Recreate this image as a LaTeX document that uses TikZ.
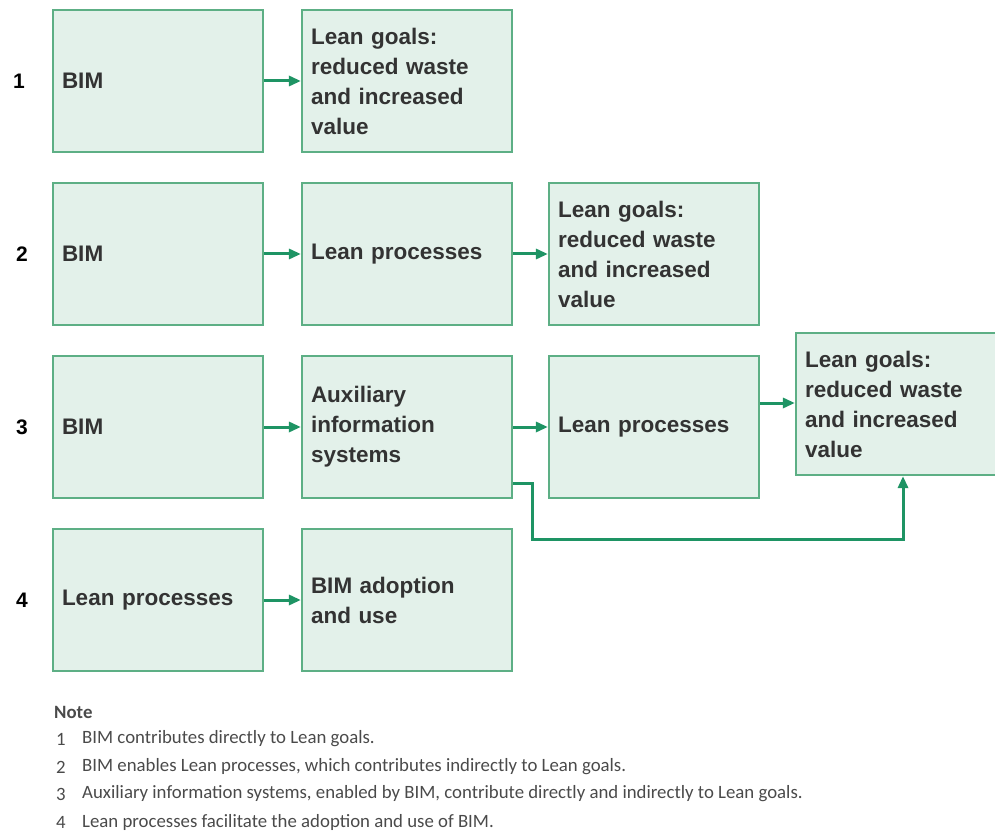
\documentclass[tikz,border=0pt]{standalone}
\usepackage{fontspec}
\setmainfont{Liberation Sans}
\newfontfamily\notefont{Carlito}
\usetikzlibrary{arrows.meta}
\definecolor{boxfill}{HTML}{E3F1EA}
\definecolor{boxline}{HTML}{5DAF85}
\definecolor{arrowgreen}{HTML}{1E9464}
\definecolor{boxtext}{HTML}{333333}
\definecolor{notetext}{HTML}{4A4A4A}
\begin{document}
\begin{tikzpicture}[x=1pt,y=-1pt,
  box/.style={draw=boxline, line width=2.2pt, fill=boxfill,
    minimum width=210pt, minimum height=142pt, inner xsep=9pt,
    text width=192pt, align=left, text=boxtext,
    font=\fontsize{22.5}{30}\selectfont\bfseries},
  rowlabel/.style={font=\fontsize{21}{24}\selectfont\bfseries, text=black},
  link/.style={draw=arrowgreen, line width=3pt,
    -{Triangle[length=12pt,width=10pt]}},
  note/.style={anchor=west, inner sep=0pt, text=notetext,
    font=\notefont\fontsize{18.8}{22}\selectfont}]
\useasboundingbox (0,0) rectangle (995,834);

% row labels
\node[rowlabel] (n1) at (19,81) {1};
\node[rowlabel] (n2) at (22,254) {2};
\node[rowlabel] (n3) at (22,427) {3};
\node[rowlabel] (n4) at (22,600) {4};

% row 1
\node[box] (a1) at (158,81) {BIM};
\node[box] (b1) at (407,81) {Lean goals:\\reduced waste\\and increased\\value};
% row 2
\node[box] (a2) at (158,254) {BIM};
\node[box] (b2) at (407,254) {Lean processes};
\node[box] (c2) at (654,254) {Lean goals:\\reduced waste\\and increased\\value};
% row 3
\node[box] (a3) at (158,427) {BIM};
\node[box] (b3) at (407,427) {Auxiliary\\information\\systems};
\node[box] (c3) at (654,427) {Lean processes};
\node[box] (d3) at (901,404) {Lean goals:\\reduced waste\\and increased\\value};
% row 4
\node[box] (a4) at (158,600) {Lean processes};
\node[box] (b4) at (407,600) {BIM adoption\\and use};

% connectors
\draw[link] (a1) -- (b1);
\draw[link] (a2) -- (b2);
\draw[link] (b2) -- (c2);
\draw[link] (a3) -- (b3);
\draw[link] (b3) -- (c3);
\draw[link] (c3.east |- 0,403) -- (d3.west |- 0,403);
\draw[link] (b3.east |- 0,483) -| (532,539) -| (d3.south -| 903,0);
\draw[link] (a4) -- (b4);

% note
\node[note, font=\notefont\fontsize{18.8}{22}\selectfont\bfseries] (nt) at (54,712) {Note};
\node[note] (l1) at (82,739) {BIM contributes directly to Lean goals.};
\node[note] (l2) at (82,767) {BIM enables Lean processes, which contributes indirectly to Lean goals.};
\node[note] (l3) at (82,794) {Auxiliary information systems, enabled by BIM, contribute directly and indirectly to Lean goals.};
\node[note] (l4) at (82,822) {Lean processes facilitate the adoption and use of BIM.};
\node[note, anchor=center] (k1) at (61,739) {1};
\node[note, anchor=center] (k2) at (61,767) {2};
\node[note, anchor=center] (k3) at (61,794) {3};
\node[note, anchor=center] (k4) at (61,822) {4};
\end{tikzpicture}
\end{document}
